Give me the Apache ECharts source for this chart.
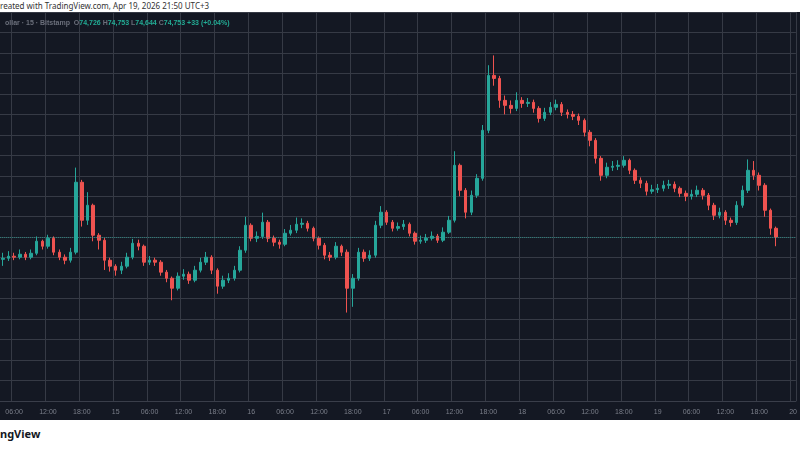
<!DOCTYPE html>
<html><head><meta charset="utf-8">
<script src="https://cdn.jsdelivr.net/npm/echarts@6/dist/echarts.min.js"></script>
<style>
html,body{margin:0;padding:0;background:#fff;width:800px;height:450px;overflow:hidden;font-family:"Noto Sans",Roboto,sans-serif}
#top{position:absolute;left:0;top:0;height:12px;font-size:8px;line-height:11px;color:#333;white-space:nowrap}
#c{position:absolute;left:0;top:12px;width:800px;height:408px;background:#141823}
#bot{position:absolute;left:0;top:426px;font-size:11px;font-weight:bold;color:#131722}
</style></head><body>
<div id="top">reated with TradingView.com, Apr 19, 2026 21:50 UTC+3</div>
<div id="c"></div>
<div id="bot">ngView</div>
<script>
// hours since Apr 14 00:00 (categories 4..144), candles start at hour 4
const hours = Array.from({length:141},(_,i)=>i+4);
const startHour = 4;
const opens = [74480,74493,74518,74506,74542,74506,74554,74701,74640,74737,74567,74506,74469,74567,75421,74957,75140,74774,74713,74469,74396,74347,74396,74506,74676,74640,74445,74470,74445,74323,74249,74127,74274,74298,74225,74347,74445,74506,74347,74152,74225,74249,74347,74591,74896,74737,74760,74933,74737,74689,74664,74798,74835,74908,74920,74859,74737,74652,74530,74506,74640,74567,74127,74249,74567,74493,74530,74896,75055,74933,74859,74880,74908,74798,74701,74713,74737,74762,74713,74811,74957,75628,75323,75055,75262,75469,76055,76726,76689,76421,76360,76323,76421,76384,76397,76323,76201,76275,76336,76372,76275,76250,76226,76177,76031,75933,75713,75506,75604,75616,75628,75689,75567,75445,75408,75311,75330,75347,75384,75396,75347,75286,75250,75274,75323,75262,75140,75018,75055,74957,74930,75140,75323,75567,75506,75384,75079,74859];
const closes = [74493,74518,74506,74542,74506,74554,74701,74640,74737,74567,74506,74469,74567,75421,74957,75140,74774,74713,74469,74396,74347,74396,74506,74676,74640,74445,74470,74445,74323,74249,74127,74274,74298,74225,74347,74445,74506,74347,74152,74225,74249,74347,74591,74896,74737,74760,74933,74737,74689,74664,74798,74835,74908,74920,74859,74737,74652,74530,74506,74640,74567,74127,74249,74567,74493,74530,74896,75055,74933,74859,74880,74908,74798,74701,74713,74737,74762,74713,74811,74957,75628,75323,75055,75262,75469,76055,76726,76689,76421,76360,76323,76421,76384,76397,76323,76201,76275,76336,76372,76275,76250,76226,76177,76031,75933,75713,75506,75604,75616,75628,75689,75567,75445,75408,75311,75330,75347,75384,75396,75347,75286,75250,75274,75323,75262,75140,75018,75055,74957,74930,75140,75323,75567,75506,75384,75079,74859,74753];
const highs = [74560,74580,74560,74600,74570,74600,74760,74720,74780,74760,74600,74540,74620,75600,75450,75300,75160,74800,74740,74500,74420,74450,74560,74730,74720,74660,74520,74500,74470,74350,74270,74320,74360,74330,74400,74500,74570,74530,74370,74280,74310,74400,74640,75000,74920,74820,75050,74960,74770,74720,74850,74900,74990,74980,74950,74880,74760,74680,74570,74690,74660,74600,74300,74620,74600,74590,74950,75130,75080,74960,74930,74960,74930,74820,74770,74790,74820,74790,74870,75010,75800,75650,75350,75320,75520,76120,76850,76970,76720,76480,76420,76520,76460,76450,76430,76350,76330,76400,76430,76400,76310,76290,76260,76200,76060,75960,75740,75660,75680,75690,75740,75710,75590,75480,75440,75390,75400,75440,75450,75430,75370,75320,75330,75380,75350,75290,75170,75110,75080,74990,75190,75380,75700,75680,75540,75410,75100,74880];
const lows = [74400,74460,74470,74480,74470,74480,74530,74600,74610,74530,74470,74420,74440,74540,74880,74900,74700,74600,74350,74330,74280,74300,74370,74480,74590,74400,74410,74400,74280,74200,73980,74100,74230,74180,74200,74320,74410,74300,74060,74120,74190,74220,74320,74560,74700,74690,74730,74690,74640,74610,74640,74770,74800,74860,74820,74700,74600,74480,74460,74480,74520,73830,73900,74220,74450,74460,74500,74860,74900,74820,74830,74840,74760,74660,74670,74680,74710,74680,74690,74790,74930,75250,74980,75020,75230,75440,76020,76600,76330,76250,76260,76290,76330,76340,76270,76150,76170,76240,76300,76230,76200,76180,76120,75980,75860,75650,75440,75470,75560,75570,75600,75520,75400,75350,75260,75280,75290,75310,75340,75300,75240,75190,75210,75240,75210,75080,74960,74980,74900,74880,74900,75110,75290,75450,75320,75000,74780,74640];
const lastPrice = 74753;

const data = hours.map(h=>{
  const i=h-startHour;
  if(i<0||i>=closes.length) return '-';
  return [opens[i],closes[i],lows[i],highs[i]];
});
const pad=n=>String(n).padStart(2,'0');
const chart = echarts.init(document.getElementById('c'));
chart.setOption({
  animation:false,
  backgroundColor:'#141823',
  title:{left:0,top:3,text:'{g|ollar · 15 · Bitstamp  }{g|O}{v|74,726 }{g|H}{v|74,753 }{g|L}{v|74,644 }{g|C}{v|74,753 }{v|+33 (+0.04%)}',
    textStyle:{rich:{g:{color:'#6b6f7b',fontSize:7},v:{color:'#22ab94',fontSize:7}}}},
  grid:{left:0,right:2,top:0,bottom:19},
  xAxis:{type:'category',data:hours,boundaryGap:true,
    axisLine:{lineStyle:{color:'#3a3e4a'}},axisTick:{show:false},
    axisLabel:{color:'#7b7f8a',fontSize:7,margin:8,interval:(i,v)=>(+v)%6===0,
      formatter:(v)=>{const h=+v; return h%24===0?String(14+h/24):pad(h%24)+':00';}},
    splitLine:{show:true,interval:(i,v)=>(+v)%6===0,lineStyle:{color:'#363a45',width:1}}},
  yAxis:{type:'value',min:72750,max:77500,interval:250,position:'right',
    axisLabel:{show:false},axisLine:{show:false},axisTick:{show:false},
    splitLine:{lineStyle:{color:'#363a45',width:1}}},
  series:[{type:'candlestick',data:data,barWidth:3,
    itemStyle:{color:'#26a69a',color0:'#ef5350',borderColor:'#26a69a',borderColor0:'#ef5350',borderWidth:1},
    markLine:{symbol:'none',silent:true,label:{show:false},
      lineStyle:{color:'#26a69a',type:'dotted',width:1,opacity:0.6},
      data:[{yAxis:lastPrice}]}}]
});
</script></body></html>
